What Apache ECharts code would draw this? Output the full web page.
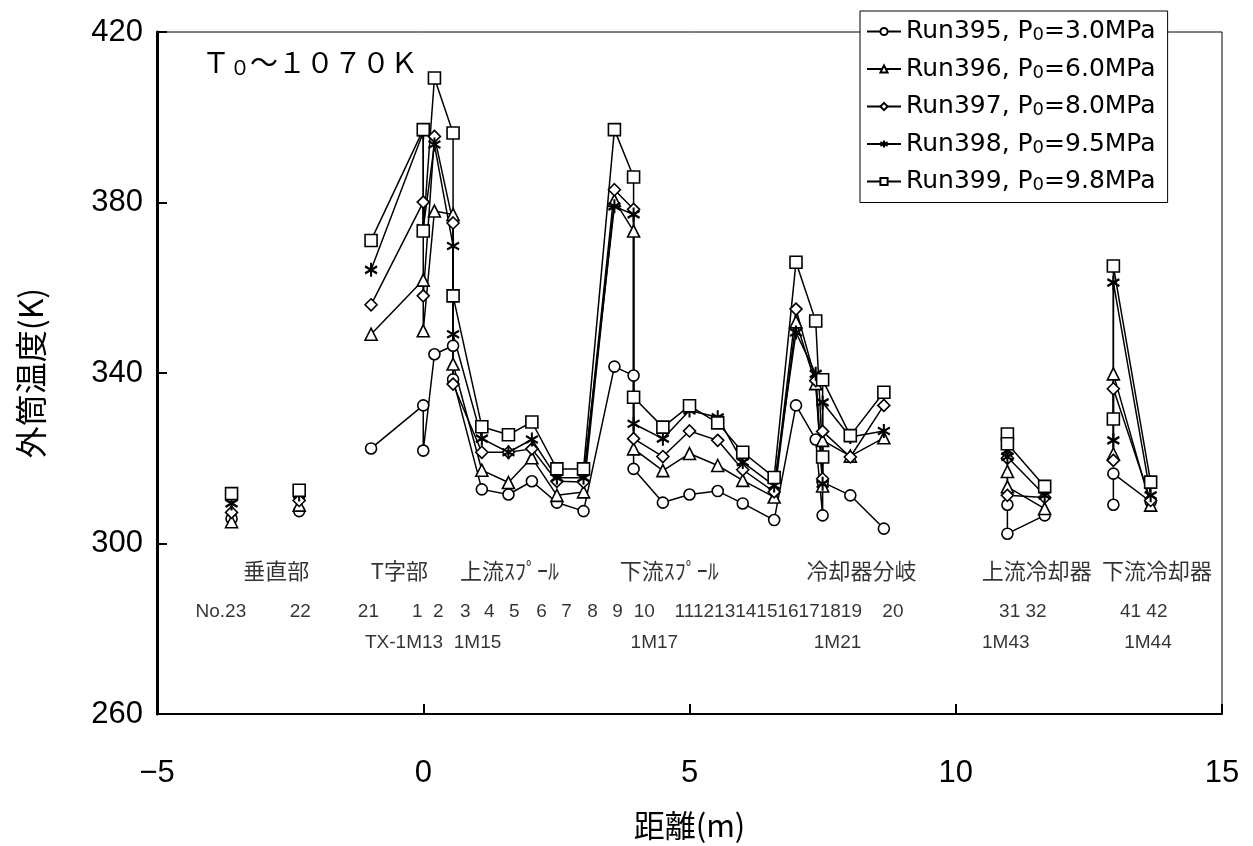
<!DOCTYPE html>
<html>
<head>
<meta charset="utf-8">
<script src="https://cdn.jsdelivr.net/npm/echarts@6/dist/echarts.min.js"></script>
<style>
html, body { margin: 0; padding: 0; background: #fff; }
#chart { width: 1253px; height: 846px; }
</style>
</head>
<body>
<div id="chart"></div>
<script>
// distance along the pipe (m); null = break in the line
var xPos = [-3.6, null, -2.33, null,
    -0.98, 0, 0, 0.21, 0.56, 0.56,
    1.10, 1.60, 2.04, 2.51, 3.01,
    3.59, 3.95, 3.95, 4.50, 5.00, 5.53, 6.00, 6.59,
    7.00, 7.37, 7.50, 7.50, 8.02, 8.65, null,
    10.97, 10.97, 11.67, null,
    12.96, 12.96, 13.66];

var run395 = [305.8, null, 307.6, null,
    322.3, 332.4, 321.8, 344.4, 346.4, 338.5,
    312.7, 311.5, 314.6, 309.6, 307.6,
    341.5, 339.4, 317.5, 309.6, 311.5, 312.3, 309.4, 305.5,
    332.4, 324.4, 306.6, 314.4, 311.3, 303.5, null,
    309.1, 302.3, 306.6, null,
    309.1, 316.4, 309.8];
var run396 = [305.1, null, 309.0, null,
    349.1, 361.8, 349.9, 378.0, 377.2, 342.1,
    317.2, 314.3, 320.1, 311.3, 312.1,
    380.5, 373.3, 322.2, 317.1, 321.1, 318.3, 314.8, 310.9,
    352.0, 337.5, 313.5, 324.2, 320.5, 324.8, null,
    316.9, 313.3, 308.2, null,
    321.0, 339.8, 309.0];
var run397 = [307.3, null, 310.1, null,
    356.0, 380.1, 358.1, 395.5, 375.2, 337.4,
    321.4, 321.4, 322.2, 314.6, 314.4,
    383.0, 378.4, 324.6, 320.4, 326.4, 324.2, 317.3, 312.1,
    355.0, 338.2, 315.2, 326.3, 320.3, 332.4, null,
    320.0, 311.3, 310.8, null,
    319.5, 336.3, 310.1];
var run398 = [309.4, null, 311.5, null,
    364.2, 396.5, 374.0, 393.6, 369.8, 349.1,
    324.6, 321.4, 324.4, 315.4, 315.4,
    379.1, 377.2, 328.1, 324.6, 331.2, 329.6, 319.1, 313.6,
    349.5, 339.8, 314.0, 333.1, 325.0, 326.4, null,
    321.8, 320.3, 311.3, null,
    324.2, 361.2, 311.3];
var run399 = [311.7, null, 312.5, null,
    371.1, 397.1, 373.3, 409.2, 396.3, 358.1,
    327.4, 325.5, 328.5, 317.5, 317.5,
    397.1, 386.0, 334.3, 327.3, 332.3, 328.3, 321.4, 315.5,
    366.0, 352.2, 320.3, 338.4, 325.3, 335.5, null,
    325.7, 323.4, 313.4, null,
    329.2, 365.1, 314.4];

var runNames = ['Run395, P0=3.0MPa', 'Run396, P0=6.0MPa', 'Run397, P0=8.0MPa',
    'Run398, P0=9.5MPa', 'Run399, P0=9.8MPa'];

// labels written inside the plot (x in m, y in K)
var sectionNames = ['垂直部', 'T字部', '上流ｽﾌﾟｰﾙ', '下流ｽﾌﾟｰﾙ', '冷却器分岐', '上流冷却器', '下流冷却器'];
var sectionX = [-2.76, -0.45, 1.62, 4.62, 8.23, 11.52, 13.78];
var sectionY = 293.7;
var sensorNames = ['No.23', '22', '21', '1', '2', '3', '4', '5', '6', '7', '8', '9', '10',
    '111213141516171819', '20', '31 32', '41 42'];
var sensorX = [-3.80, -2.31, -1.03, -0.11, 0.28, 0.79, 1.24, 1.71, 2.22, 2.69, 3.18, 3.65, 4.15,
    6.48, 8.82, 11.26, 13.53];
var sensorY = 284.1;
var pipeNames = ['TX-1M13', '1M15', '1M17', '1M21', '1M43', '1M44'];
var pipeX = [-0.36, 1.02, 4.34, 7.78, 10.94, 13.61];
var pipeY = 276.6;

var ASTER = 'path://M0,0L0,10M-4.33,2.5L4.33,7.5M-4.33,7.5L4.33,2.5';
var symbols = ['circle', 'triangle', 'diamond', ASTER, 'rect'];
var sizes = [11, 12, 12, [12, 14], 12];
var runs = [run395, run396, run397, run398, run399];

function pairs(ys) {
    return xPos.map(function (x, i) {
        if (x === null || ys[i] === null) return ['-', '-'];
        return [x, ys[i]];
    });
}

function labelData(names, xs, y) {
    return names.map(function (n, i) {
        return { name: n, value: [xs[i], y] };
    });
}

var jp = '"Noto Sans CJK JP", sans-serif';
var lat = '"Liberation Sans", Arial, sans-serif';
var wide = '"DejaVu Sans", sans-serif';

var series = runs.map(function (ys, i) {
    var isAster = i === 3;
    return {
        name: runNames[i],
        type: 'line',
        data: pairs(ys),
        symbol: symbols[i],
        symbolSize: sizes[i],
        connectNulls: false,
        lineStyle: { color: '#000', width: 1.5 },
        itemStyle: {
            color: isAster ? '#000' : '#fff',
            borderColor: '#000',
            borderWidth: isAster ? 2.2 : 1.6
        },
        emphasis: { disabled: true },
        animation: false
    };
});

function textSeries(data, size, font) {
    return {
        type: 'scatter',
        data: data,
        symbolSize: 0,
        silent: true,
        animation: false,
        label: {
            show: true,
            position: 'inside',
            formatter: '{b}',
            color: '#000',
            fontSize: size,
            fontFamily: font
        }
    };
}

series.push(textSeries(labelData(sectionNames, sectionX, sectionY), 22, jp));
series.push(textSeries(labelData(sensorNames, sensorX, sensorY), 19, lat));
series.push(textSeries(labelData(pipeNames, pipeX, pipeY), 19, lat));

var chart = echarts.init(document.getElementById('chart'));

var option = {
    backgroundColor: '#fff',
    title: {
        text: '{a|Ｔ}{s|０}{a|～１０７０Ｋ}',
        left: 197,
        top: 42,
        textStyle: {
            rich: {
                a: { fontSize: 28, fontFamily: jp, color: '#000', fontWeight: 'normal' },
                s: { fontSize: 20, fontFamily: jp, color: '#000', fontWeight: 'normal', padding: [10, 0, 0, 0] }
            }
        }
    },
    legend: {
        data: runNames,
        orient: 'vertical',
        left: 860,
        top: 11,
        padding: [8, 12, 8, 6],
        itemGap: 12,
        itemWidth: 34,
        itemHeight: 9,
        backgroundColor: '#fff',
        borderColor: '#000',
        borderWidth: 1,
        formatter: function (n) { return n.replace('P0', 'P{s|0}'); },
        textStyle: {
            fontSize: 25,
            fontFamily: wide,
            color: '#000',
            rich: {
                s: { fontSize: 18, fontFamily: wide, color: '#000', padding: [8, 0, 0, 0] }
            }
        }
    },
    grid: {
        left: 157,
        right: 31,
        top: 32,
        bottom: 131,
        show: true,
        borderColor: '#000',
        borderWidth: 1
    },
    xAxis: {
        type: 'value',
        min: -5,
        max: 15,
        interval: 5,
        name: '距離(m)',
        nameLocation: 'middle',
        nameGap: 96,
        nameTextStyle: { fontSize: 31, fontFamily: jp, color: '#000' },
        axisLine: { show: true, onZero: false, lineStyle: { color: '#000', width: 2 } },
        axisTick: { show: true, inside: true, length: 10, lineStyle: { color: '#000', width: 2 } },
        axisLabel: {
            fontSize: 31, fontFamily: lat, color: '#000', margin: 44,
            formatter: function (v) { return String(v).replace('-', '−'); }
        },
        splitLine: { show: false }
    },
    yAxis: {
        type: 'value',
        min: 260,
        max: 420,
        interval: 40,
        name: '外筒温度(K)',
        nameLocation: 'middle',
        nameRotate: 90,
        nameGap: 110,
        nameTextStyle: { fontSize: 32, fontFamily: jp, color: '#000' },
        axisLine: { show: true, onZero: false, lineStyle: { color: '#000', width: 3 } },
        axisTick: { show: true, inside: true, length: 10, lineStyle: { color: '#000', width: 2 } },
        axisLabel: { fontSize: 31, fontFamily: lat, color: '#000', margin: 14 },
        splitLine: { show: false }
    },
    series: series
};

chart.setOption(option);
</script>
</body>
</html>
